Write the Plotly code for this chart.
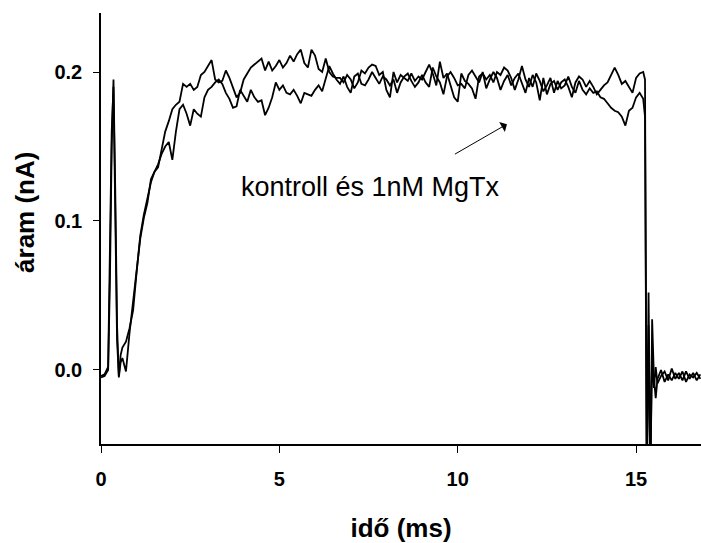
import numpy as np
import plotly.graph_objects as go

# time grid (ms)
t_head = [0.0, 0.1, 0.2, 0.25, 0.3, 0.35, 0.4, 0.45, 0.5, 0.55, 0.6, 0.7]
t_body = [round(0.8 + 0.1 * i, 2) for i in range(145)]  # 0.8 .. 15.2
t_tail = [15.25, 15.3, 15.35, 15.4, 15.45, 15.5, 15.55, 15.6,
          15.7, 15.8, 15.9, 16.0, 16.1, 16.2, 16.3, 16.4, 16.5, 16.6, 16.7, 16.8]
time_ms = t_head + t_body + t_tail

# trace 1 (current, nA)
a_head = [-0.005, -0.004, 0.000, 0.060, 0.150, 0.195, 0.120, 0.030, -0.005, 0.005, 0.008, -0.001]
a_body = [
    0.025, 0.045, 0.068, 0.088, 0.102, 0.112, 0.128, 0.133, 0.136, 0.148,   # 0.8-1.7
    0.160, 0.167, 0.175, 0.178, 0.180, 0.192, 0.190, 0.192, 0.188, 0.190,   # 1.8-2.7
    0.198, 0.200, 0.204, 0.208, 0.195, 0.193, 0.194, 0.201, 0.196, 0.190,   # 2.8-3.7
    0.183, 0.186, 0.195, 0.199, 0.203, 0.205, 0.207, 0.209, 0.201, 0.207,   # 3.8-4.7
    0.201, 0.204, 0.208, 0.203, 0.206, 0.211, 0.207, 0.212, 0.215, 0.206,   # 4.8-5.7
    0.203, 0.215, 0.211, 0.202, 0.200, 0.209, 0.200, 0.197, 0.196, 0.196,   # 5.8-6.7
    0.193, 0.198, 0.195, 0.189, 0.193, 0.201, 0.199, 0.203, 0.205, 0.204,   # 6.8-7.7
    0.198, 0.200, 0.188, 0.183, 0.200, 0.193, 0.198, 0.196, 0.194, 0.199,   # 7.8-8.7
    0.194, 0.197, 0.195, 0.200, 0.205, 0.199, 0.191, 0.207, 0.196, 0.199,   # 8.8-9.7
    0.191, 0.183, 0.180, 0.199, 0.194, 0.192, 0.189, 0.182, 0.197, 0.199,   # 9.8-10.7
    0.195, 0.198, 0.193, 0.200, 0.198, 0.203, 0.201, 0.196, 0.188, 0.195,   # 10.8-11.7
    0.204, 0.195, 0.190, 0.198, 0.193, 0.181, 0.196, 0.185, 0.192, 0.194,   # 11.8-12.7
    0.188, 0.193, 0.195, 0.190, 0.183, 0.193, 0.197, 0.195, 0.190, 0.194,   # 12.8-13.7
    0.190, 0.185, 0.188, 0.191, 0.193, 0.198, 0.203, 0.198, 0.192, 0.194,   # 13.8-14.7
    0.190, 0.186, 0.196, 0.199, 0.200,                                      # 14.8-15.2
]
a_tail = [0.195, -0.080, 0.052, -0.080, 0.034, -0.005, -0.019, -0.006,
          0.000, -0.008, -0.003, -0.007, -0.002, -0.006, -0.001, -0.008, -0.003, -0.005, -0.002, -0.006]
current_a = a_head + a_body + a_tail

# trace 2 (current, nA)
b_head = [-0.004, -0.003, 0.002, 0.070, 0.160, 0.190, 0.110, 0.020, -0.004, 0.010, 0.015, 0.019]
b_body = [
    0.028, 0.040, 0.066, 0.090, 0.104, 0.114, 0.126, 0.133, 0.138, 0.145,   # 0.8-1.7
    0.150, 0.153, 0.141, 0.160, 0.175, 0.178, 0.172, 0.164, 0.175, 0.172,   # 1.8-2.7
    0.170, 0.183, 0.188, 0.190, 0.193, 0.195, 0.192, 0.186, 0.182, 0.176,   # 2.8-3.7
    0.177, 0.188, 0.184, 0.180, 0.188, 0.183, 0.180, 0.181, 0.171, 0.176,   # 3.8-4.7
    0.183, 0.193, 0.188, 0.191, 0.186, 0.185, 0.188, 0.184, 0.179, 0.186,   # 4.8-5.7
    0.185, 0.184, 0.188, 0.191, 0.187, 0.196, 0.204, 0.199, 0.195, 0.192,   # 5.8-6.7
    0.197, 0.190, 0.186, 0.197, 0.199, 0.192, 0.191, 0.195, 0.200, 0.196,   # 6.8-7.7
    0.192, 0.197, 0.195, 0.191, 0.195, 0.186, 0.193, 0.197, 0.199, 0.194,   # 7.8-8.7
    0.190, 0.193, 0.198, 0.193, 0.190, 0.203, 0.197, 0.193, 0.185, 0.197,   # 8.8-9.7
    0.200, 0.196, 0.191, 0.192, 0.189, 0.198, 0.201, 0.197, 0.193, 0.200,   # 9.8-10.7
    0.189, 0.195, 0.200, 0.196, 0.188, 0.194, 0.198, 0.191, 0.196, 0.199,   # 10.8-11.7
    0.193, 0.186, 0.196, 0.190, 0.199, 0.194, 0.187, 0.191, 0.196, 0.186,   # 11.8-12.7
    0.194, 0.189, 0.191, 0.197, 0.190, 0.186, 0.194, 0.188, 0.185, 0.189,   # 12.8-13.7
    0.186, 0.187, 0.183, 0.182, 0.179, 0.176, 0.174, 0.173, 0.170, 0.164,   # 13.8-14.7
    0.174, 0.176, 0.183, 0.186, 0.182,                                      # 14.8-15.2
]
b_tail = [0.170, -0.080, 0.030, -0.070, 0.010, -0.012, 0.002, -0.009,
          -0.004, -0.001, -0.007, 0.001, -0.006, -0.002, -0.007, -0.001, -0.006, -0.002, -0.007, -0.003]
current_b = b_head + b_body + b_tail

x_ticks = [0, 5, 10, 15]
y_ticks = [0.0, 0.1, 0.2]
y_tick_labels = ["0.0", "0.1", "0.2"]
label_text = "kontroll és 1nM MgTx"
x_title = "idő (ms)"
y_title = "áram (nA)"

FONT = "Liberation Sans, Arial, sans-serif"

fig = go.Figure()
for ys in (current_a, current_b):
    fig.add_trace(go.Scatter(x=time_ms, y=ys, mode="lines",
                             line=dict(color="black", width=1.8),
                             showlegend=False, hoverinfo="skip"))

fig.add_annotation(x=7.56, y=0.1225, xref="x", yref="y", text=label_text,
                   showarrow=False, font=dict(family=FONT, size=27, color="black"))
fig.add_annotation(x=11.38, y=0.165, ax=9.88, ay=0.1443, xref="x", yref="y",
                   axref="x", ayref="y", text="", showarrow=True,
                   arrowhead=1, arrowsize=1.9, arrowwidth=1, arrowcolor="black")

# y-axis title placed as rotated text
fig.add_annotation(x=-0.127, y=0.538, xref="paper", yref="paper", text=f"<b>{y_title}</b>",
                   showarrow=False, textangle=-90, xanchor="center", yanchor="middle",
                   font=dict(family=FONT, size=26, color="black"))

fig.update_layout(
    width=701, height=543,
    margin=dict(l=101, r=0, t=13, b=99),
    plot_bgcolor="white", paper_bgcolor="white",
    font=dict(family=FONT, color="black"),
)
fig.update_xaxes(range=[0, 16.82], tickvals=x_ticks, ticks="outside", ticklen=7,
                 tickwidth=1.3, tickcolor="black", showline=True, linecolor="black",
                 linewidth=1.5, showgrid=False, zeroline=False,
                 tickfont=dict(family=FONT, size=20, color="black", weight="bold"),
                 ticklabelstandoff=9,
                 title=dict(text=f"<b>{x_title}</b>", font=dict(family=FONT, size=26), standoff=33))
fig.update_yaxes(range=[-0.0497, 0.2396], tickvals=y_ticks, ticktext=y_tick_labels,
                 ticks="outside", ticklen=6, tickwidth=1.3, tickcolor="black",
                 showline=True, linecolor="black", linewidth=1.5, showgrid=False,
                 zeroline=False,
                 tickfont=dict(family=FONT, size=20, color="black", weight="bold"),
                 ticklabelstandoff=7)

fig.write_html("out.html")
